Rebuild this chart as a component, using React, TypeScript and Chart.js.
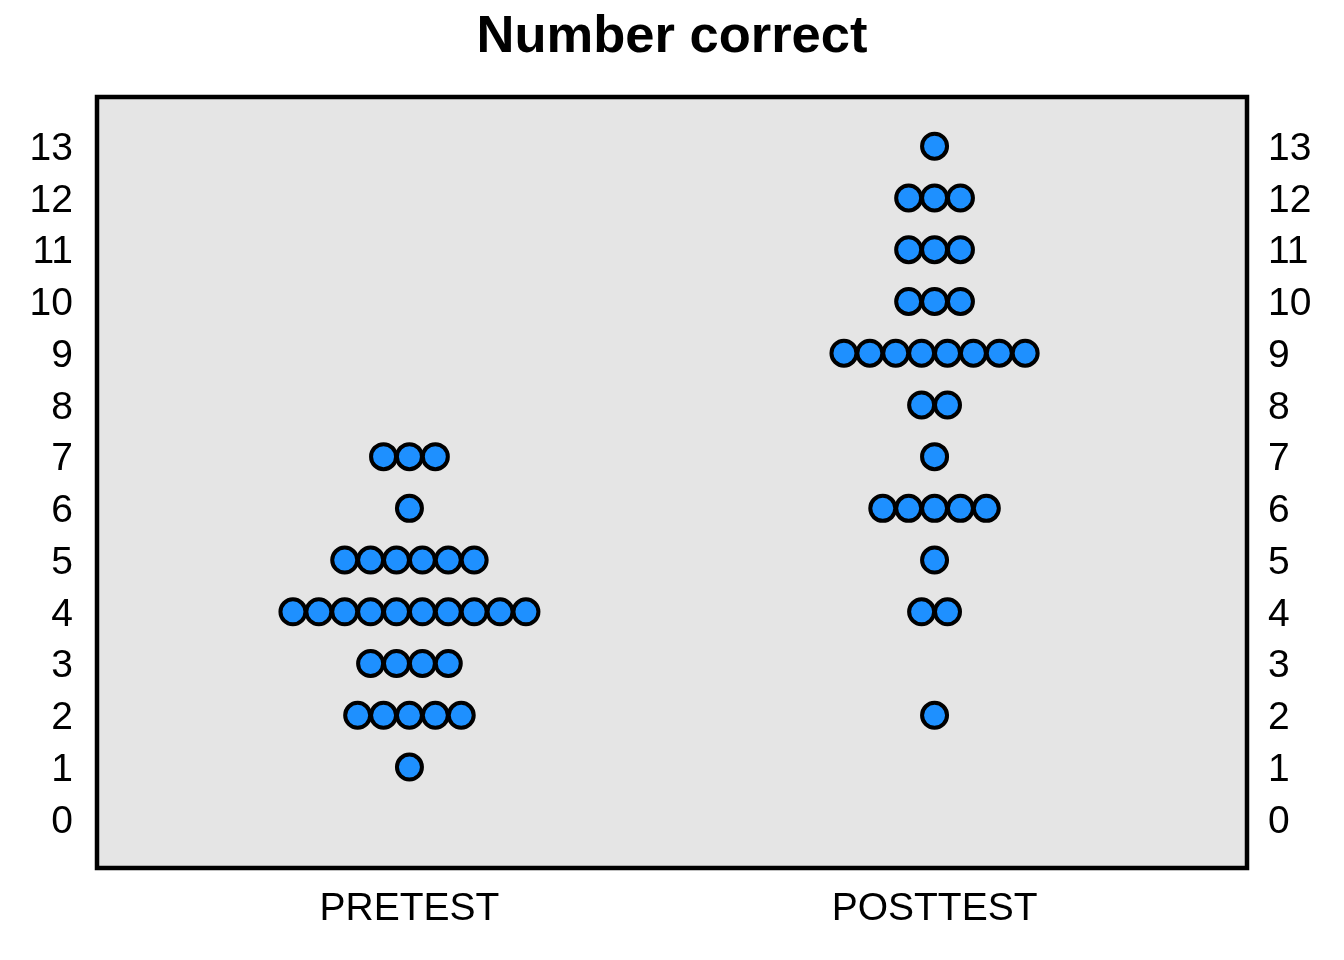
import { useEffect, useRef } from 'react';
import Chart from 'chart.js/auto';

// categories on the x axis and the scores on the y axis
const groups = ['PRETEST', 'POSTTEST'];
const scoreTicks = [0, 1, 2, 3, 4, 5, 6, 7, 8, 9, 10, 11, 12, 13];

// how many students got each score (index = number correct)
const pretestCounts = [0, 1, 5, 4, 10, 6, 1, 3, 0, 0, 0, 0, 0, 0];
const posttestCounts = [0, 0, 1, 0, 2, 1, 5, 1, 2, 8, 3, 3, 3, 1];

const DOT_STEP = 0.0493; // horizontal gap between stacked dots, in x units
const FONT = "'Liberation Sans', Arial, sans-serif";

// spread the dots of each score row symmetrically around the group position
const buildDots = (counts: number[], groupPos: number) => {
  const pts: { x: number; y: number }[] = [];
  counts.forEach((n, score) => {
    for (let i = 0; i < n; i++) {
      pts.push({ x: groupPos + (i - (n - 1) / 2) * DOT_STEP, y: score });
    }
  });
  return pts;
};

const plotFrame = {
  id: 'plotFrame',
  beforeDraw(chart: any) {
    const { ctx, chartArea: a } = chart;
    ctx.save();
    ctx.fillStyle = '#e5e5e5';
    ctx.fillRect(a.left, a.top, a.right - a.left, a.bottom - a.top);
    ctx.restore();
  },
  afterDraw(chart: any) {
    const { ctx, chartArea: a } = chart;
    ctx.save();
    ctx.strokeStyle = '#000';
    ctx.lineWidth = 4.5;
    ctx.strokeRect(a.left, a.top, a.right - a.left, a.bottom - a.top);
    ctx.restore();
  },
};

const yAxis = (position: 'left' | 'right', padding: number) => ({
  type: 'linear' as const,
  position,
  min: -0.95,
  max: 13.95,
  grid: { display: false, drawTicks: false },
  border: { display: false },
  afterBuildTicks: (scale: any) => {
    scale.ticks = scoreTicks.map((v) => ({ value: v }));
  },
  afterFit: (scale: any) => {
    scale.width = 97;
  },
  ticks: {
    color: '#000',
    padding,
    labelOffset: 3,
    font: { family: FONT, size: 39 },
  },
});

const DotPlot = () => {
  const chartRef = useRef<HTMLCanvasElement>(null);
  const chartInstance = useRef<Chart | null>(null);

  useEffect(() => {
    if (!chartRef.current) return;
    if (chartInstance.current) chartInstance.current.destroy();

    const ctx = chartRef.current.getContext('2d');
    if (!ctx) return;

    chartInstance.current = new Chart(ctx, {
      type: 'scatter',
      data: {
        datasets: [
          { label: groups[0], data: buildDots(pretestCounts, 1) },
          { label: groups[1], data: buildDots(posttestCounts, 2) },
        ],
      },
      options: {
        animation: false,
        responsive: true,
        maintainAspectRatio: false,
        events: [],
        layout: { padding: 0 },
        elements: {
          point: {
            radius: 12.5,
            borderWidth: 4,
            backgroundColor: '#1e90ff',
            borderColor: '#000',
          },
        },
        plugins: {
          legend: { display: false },
          tooltip: { enabled: false },
          title: {
            display: true,
            text: 'Number correct',
            color: '#000',
            font: { family: FONT, size: 52.5, weight: 'bold', lineHeight: 1 },
            padding: { top: 11, bottom: 33.5 },
          },
        },
        scales: {
          x: {
            type: 'linear',
            position: 'bottom',
            min: 0.405,
            max: 2.595,
            grid: { display: false, drawTicks: false },
            border: { display: false },
            afterBuildTicks: (scale: any) => {
              scale.ticks = groups.map((_, i) => ({ value: i + 1 }));
            },
            afterFit: (scale: any) => {
              scale.height = 92;
            },
            ticks: {
              color: '#000',
              padding: 18,
              maxRotation: 0,
              font: { family: FONT, size: 39 },
              callback: (v: any) => groups[Number(v) - 1] ?? '',
            },
          },
          y: yAxis('left', 24),
          yRight: yAxis('right', 21),
        },
      },
      plugins: [plotFrame],
    });

    return () => {
      if (chartInstance.current) {
        chartInstance.current.destroy();
        chartInstance.current = null;
      }
    };
  }, []);

  return <canvas ref={chartRef} />;
};

export default function App() {
  return (
    <div style={{ position: 'absolute', left: 0, top: 0, width: 1344, height: 960, background: '#fff' }}>
      <DotPlot />
    </div>
  );
}
